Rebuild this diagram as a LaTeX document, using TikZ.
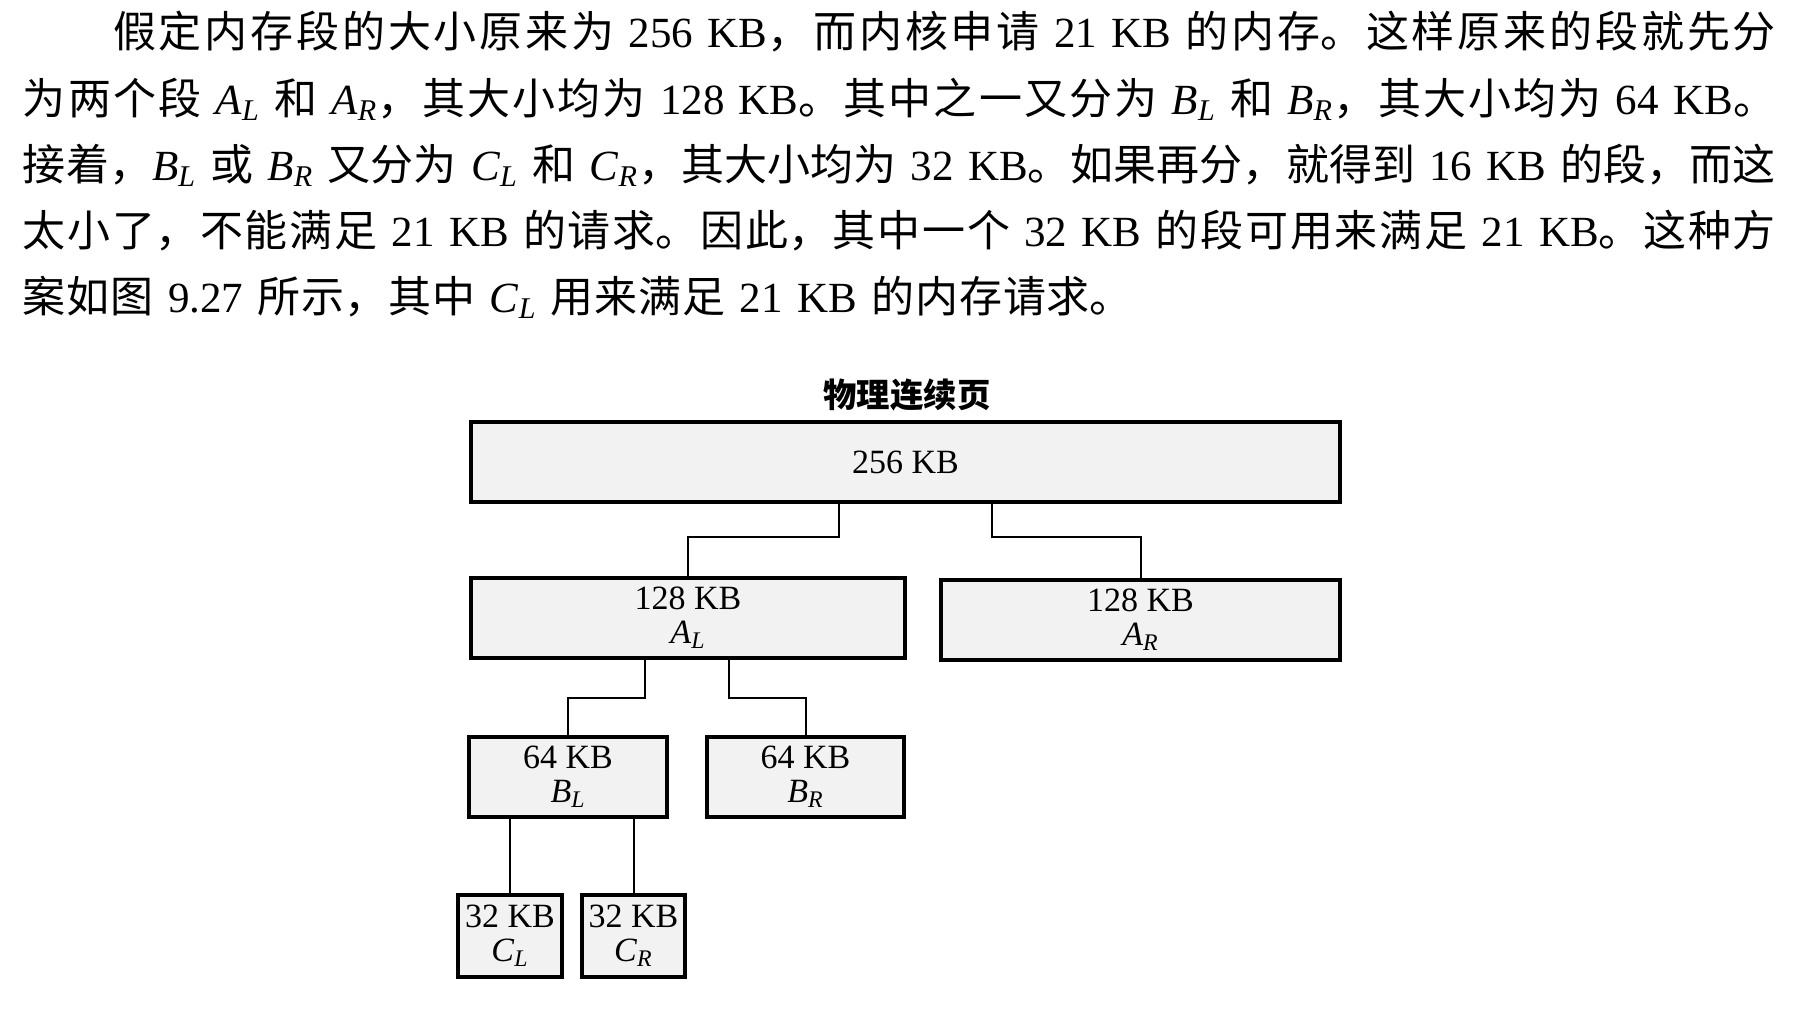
\documentclass[tikz,border=0pt]{standalone}
\usepackage{fontspec}
\setmainfont{Liberation Serif}
\newfontfamily\zhfont{Noto Sans CJK SC}
\newcommand\zh[1]{{\zhfont #1}}
\newcommand\seg[2]{\textit{#1}\textsubscript{\textit{#2}}}
\XeTeXlinebreaklocale "zh"
\XeTeXlinebreakskip=0pt plus 4pt
\tolerance=10000
\hbadness=10000
\newcommand\jst{\parfillskip=0pt \leftskip=0pt \rightskip=0pt \parindent=0pt }
\begin{document}
\begin{tikzpicture}[x=0.5pt,y=-0.5pt,
  pline/.style={anchor=base west, inner sep=0pt, outer sep=0pt, font=\fontsize{21.5}{30}\selectfont},
  blk/.style={draw, line width=2pt, fill=black!5, inner sep=0pt, align=center,
              font=\fontsize{17}{17}\selectfont},
  wire/.style={line width=1pt}]
\useasboundingbox (0,0) rectangle (1814,1018);

% paragraph
\node[pline, text width=831.5pt] (l1) at (113,47.5)
  {\jst\zh{假定内存段的大小原来为} 256 KB\zh{，而内核申请} 21 KB \zh{的内存。这样原来的段就先分}\par};
\node[pline, text width=876.5pt] (l2) at (23,114)
  {\jst\zh{为两个段} \seg AL \zh{和} \seg AR\zh{，其大小均为} 128 KB\zh{。其中之一又分为} \seg BL \zh{和} \seg BR\zh{，其大小均为} 64 KB\zh{。}\par};
\node[pline, text width=876.5pt] (l3) at (23,180.5)
  {\jst\zh{接着，}\seg BL \zh{或} \seg BR \zh{又分为} \seg CL \zh{和} \seg CR\zh{，其大小均为} 32 KB\zh{。如果再分，就得到} 16 KB \zh{的段，而这}\par};
\node[pline, text width=876.5pt] (l4) at (23,246.5)
  {\jst\zh{太小了，不能满足} 21 KB \zh{的请求。因此，其中一个} 32 KB \zh{的段可用来满足} 21 KB\zh{。这种方}\par};
\node[pline, text width=555pt] (l5) at (23,312.5)
  {\jst\zh{案如图} 9.27 \zh{所示，其中} \seg CL \zh{用来满足} 21 KB \zh{的内存请求。}\par};

% diagram
\node[font={\fontsize{16.7}{18}\selectfont\zhfont\bfseries}] (title) at (907,395) {物理连续页};

\node[blk, minimum width=434.5pt, minimum height=40pt] (top) at (905.5,462) {256 KB};
\node[blk, minimum width=217pt, minimum height=40pt] (AL) at (688,617.5) {128 KB\\\seg AL};
\node[blk, minimum width=199.5pt, minimum height=40pt] (AR) at (1140.5,619.5) {128 KB\\\seg AR};
\node[blk, minimum width=99pt, minimum height=40pt] (BL) at (568,776.5) {64 KB\\\seg BL};
\node[blk, minimum width=98.5pt, minimum height=40pt] (BR) at (805.5,777) {64 KB\\\seg BR};
\node[blk, minimum width=52pt, minimum height=41pt] (CL) at (510,936) {32 KB\\\seg CL};
\node[blk, minimum width=51.5pt, minimum height=41pt] (CR) at (633.5,936) {32 KB\\\seg CR};

\coordinate (j1) at (838.5,537);
\coordinate (j2) at (992,537);
\coordinate (j3) at (645,698);
\coordinate (j4) at (729,698);
\draw[wire] (top.south -| j1) -- (j1) -| (AL.north);
\draw[wire] (top.south -| j2) -- (j2) -| (AR.north);
\draw[wire] (AL.south -| j3) -- (j3) -| (BL.north);
\draw[wire] (AL.south -| j4) -- (j4) -| (BR.north);
\draw[wire] (BL.south -| CL.north) -- (CL.north);
\draw[wire] (BL.south -| CR.north) -- (CR.north);
\end{tikzpicture}
\end{document}
